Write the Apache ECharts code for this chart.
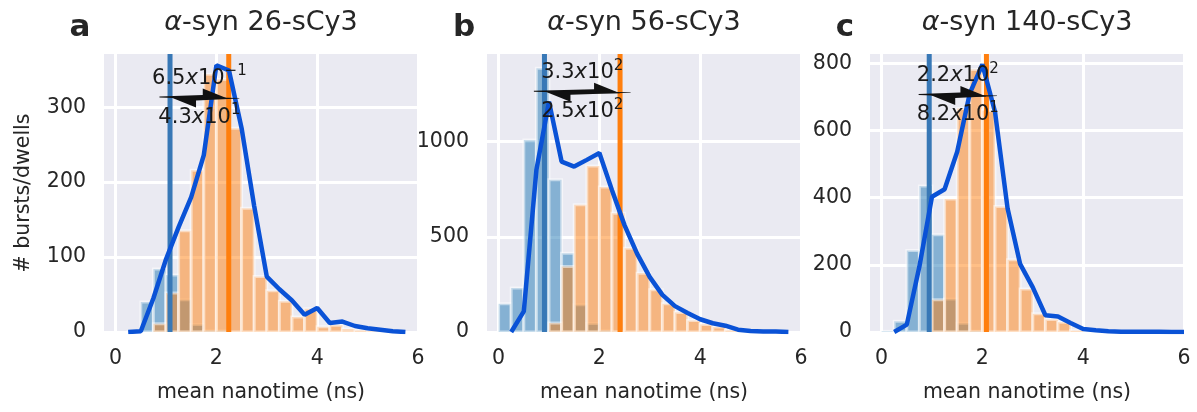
<!DOCTYPE html>
<html><head><meta charset="utf-8">
<script src="https://cdn.jsdelivr.net/npm/echarts@6/dist/echarts.min.js"></script>
<style>html,body{margin:0;padding:0;background:#fff}#c{width:1197px;height:412px}</style>
</head><body><div id="c"></div>
<script>
// ---- data ----
const binCenters = [0.125,0.375,0.625,0.875,1.125,1.375,1.625,1.875,2.125,2.375,2.625,2.875,3.125,3.375,3.625,3.875,4.125,4.375,4.625,4.875,5.125,5.375,5.625,5.875];
const lineEdges  = [0.25,0.5,0.75,1.0,1.25,1.5,1.75,2.0,2.25,2.5,2.75,3.0,3.25,3.5,3.75,4.0,4.25,4.5,4.75,5.0,5.25,5.5,5.75,6.0];
const panelLetters = ['a','b','c'];
const panelTitles = ['-syn 26-sCy3','-syn 56-sCy3','-syn 140-sCy3'];
const xAxisTitle = 'mean nanotime (ns)';
const yAxisTitle = '# bursts/dwells';

const blueA   = [0,1,40,84,76,43,10,2,2,0,0,0,0,0,0,0,0,0,0,0,0,0,0,0];
const orangeA = [0,0,0,11,52,135,216,344,337,272,165,74,55,41,20,31,7,9,4,2,1,0,0,0];
const lineA   = [0,1,45,97,140,180,236,356,349,272,168,74,57,42,23,32,12,14,8,5,3,1,0,null];

const blueB   = [148,231,1009,1385,799,414,143,45,8,2,0,0,0,0,0,0,0,0,0,0,0,0,0,0];
const orangeB = [0,0,0,0,47,344,668,872,762,624,440,309,222,148,103,60,40,26,8,3,0,0,0,0];
const lineB   = [0,108,851,1210,895,869,904,940,745,560,410,288,195,136,100,67,46,33,12,5,3,2,0,null];

const blueC   = [2,32,243,435,290,98,26,3,0,0,0,0,0,0,0,0,0,0,0,0,0,0,0,0];
const orangeC = [0,0,0,0,96,396,666,782,660,374,215,128,54,37,29,4,0,0,0,0,0,0,0,0];
const lineC   = [0,22,195,403,425,537,711,797,656,368,202,133,50,46,27,9,5,2,1,1,1,1,0,0];

const xTicks = [0,2,4,6];
const yTicks = [[0,100,200,300],[0,500,1000],[0,200,400,600,800]];
const yMaxes = [371,1460,828];

const vlineBlue   = [1.08, 0.91, 0.945];
const vlineOrange = [2.245, 2.41, 2.08];
const arrowY      = [313, 1262, 706];
const rateUp   = ['6.5','3.3','2.2'];
const expUp    = ['\u22121','2','2'];
const rateDown = ['4.3','2.5','8.2'];
const expDown  = ['1','2','1'];

const blues   = [blueA, blueB, blueC];
const oranges = [orangeA, orangeB, orangeC];
const lines   = [lineA, lineB, lineC];

// ---- style ----
const FONT = 'DejaVu Sans';
const TXT = '#262626';
const BIN = 0.25;
const OVER = 0.21;
const gridLefts = [104, 487, 870];
const GW = 314, GT = 54, GH = 278;

const chart = echarts.init(document.getElementById('c'), null, {renderer:'canvas'});

function barRender(color){
  return function(params, api){
    const c = api.value(0), h = api.value(1);
    const p0 = api.coord([c - BIN/2, h]);
    const p1 = api.coord([c + BIN/2, 0]);
    return {type:'rect', shape:{x:p0[0], y:p0[1], width:p1[0]-p0[0], height:p1[1]-p0[1]},
      style:{fill:color, stroke:'rgba(255,255,255,0.5)', lineWidth:3}};
  };
}
function vlineRender(color){
  return function(params, api){
    const p = api.coord([api.value(0), 0]);
    const cs = params.coordSys;
    return {type:'line', shape:{x1:p[0], y1:cs.y, x2:p[0], y2:cs.y+cs.height},
      style:{stroke:color, lineWidth:5}};
  };
}
const annRich = {
  n:{fontFamily:FONT, fontSize:21, lineHeight:25, verticalAlign:'bottom', fill:'#1a1a1a'},
  i:{fontFamily:FONT, fontSize:21, lineHeight:25, verticalAlign:'bottom', fontStyle:'italic', fill:'#1a1a1a'},
  s:{fontFamily:FONT, fontSize:15, lineHeight:15, verticalAlign:'top', fill:'#1a1a1a'}
};
function arrowRender(i){
  return function(params, api){
    const xb = api.value(0), xo = api.value(1), yv = api.value(2);
    const L = api.coord([xb - OVER, yv]), B = api.coord([xb, yv]);
    const O = api.coord([xo, yv]), R = api.coord([xo + OVER, yv]);
    const y0 = B[1], HL = 26;
    const up = [[L[0], y0-1], [O[0]-HL, y0-2.5], [O[0]-HL, y0-9], [O[0], y0+1.5], [O[0]-HL, y0+1.5], [L[0], y0]];
    const dn = [[R[0], y0+1], [B[0]+HL, y0+3], [B[0]+HL, y0+10], [B[0], y0-0.5], [B[0]+HL, y0-0.5], [R[0], y0+0.5]];
    const mx = (B[0]+O[0])/2;
    return {type:'group', children:[
      {type:'polygon', shape:{points:up}, style:{fill:'#111'}},
      {type:'polygon', shape:{points:dn}, style:{fill:'#111'}},
      {type:'text', x:mx, y:y0-21, style:{text:'{n|'+rateUp[i]+'}{i|x}{n|10}{s|'+expUp[i]+'}', rich:annRich, align:'center', verticalAlign:'middle'}},
      {type:'text', x:mx, y:y0+18, style:{text:'{n|'+rateDown[i]+'}{i|x}{n|10}{s|'+expDown[i]+'}', rich:annRich, align:'center', verticalAlign:'middle'}}
    ]};
  };
}

const grids = [], xAxes = [], yAxes = [], series = [], graphics = [];
for (let i = 0; i < 3; i++){
  grids.push({left:gridLefts[i], top:GT, width:GW, height:GH, show:true, backgroundColor:'#EAEAF2', borderWidth:0});
  xAxes.push({type:'value', gridIndex:i, min:-0.23, max:6,
    axisLine:{show:false}, axisTick:{show:false, customValues:xTicks},
    axisLabel:{customValues:xTicks, formatter:v=>String(v), fontFamily:FONT, fontSize:20.5, color:TXT, margin:16},
    splitLine:{show:true, lineStyle:{color:'#fff', width:3}}});
  yAxes.push({type:'value', gridIndex:i, min:0, max:yMaxes[i],
    axisLine:{show:false}, axisTick:{show:false, customValues:yTicks[i]},
    axisLabel:{customValues:yTicks[i], formatter:v=>String(v), fontFamily:FONT, fontSize:20.5, color:TXT, margin:18},
    splitLine:{show:true, lineStyle:{color:'#fff', width:3}}});
  const bData = [], oData = [];
  binCenters.forEach((c,k)=>{ if (blues[i][k]>0) bData.push([c, blues[i][k]]); if (oranges[i][k]>0) oData.push([c, oranges[i][k]]); });
  series.push({type:'custom', xAxisIndex:i, yAxisIndex:i, z:2, clip:true, silent:true, renderItem:barRender('rgba(31,119,180,0.5)'), data:bData, encode:{x:0,y:1}});
  series.push({type:'custom', xAxisIndex:i, yAxisIndex:i, z:3, clip:true, silent:true, renderItem:barRender('rgba(255,127,14,0.5)'), data:oData, encode:{x:0,y:1}});
  series.push({type:'custom', xAxisIndex:i, yAxisIndex:i, z:4, clip:true, silent:true, renderItem:vlineRender('#3878b6'), data:[[vlineBlue[i],0]], encode:{x:0,y:1}});
  series.push({type:'custom', xAxisIndex:i, yAxisIndex:i, z:4, clip:true, silent:true, renderItem:vlineRender('#ff7f0e'), data:[[vlineOrange[i],0]], encode:{x:0,y:1}});
  const lData = [];
  lineEdges.forEach((e,k)=>{ if (lines[i][k] !== null) lData.push([e, lines[i][k]]); });
  series.push({type:'line', xAxisIndex:i, yAxisIndex:i, z:5, silent:true, showSymbol:false, clip:true,
    lineStyle:{color:'#0a52d6', width:4.5}, data:lData});
  series.push({type:'custom', xAxisIndex:i, yAxisIndex:i, z:6, clip:false, silent:true, renderItem:arrowRender(i),
    data:[[vlineBlue[i], vlineOrange[i], arrowY[i]]], encode:{x:[0,1], y:2}});

  const cx = gridLefts[i] + GW/2;
  graphics.push({type:'text', x:[80,464,845][i], y:28, style:{text:panelLetters[i], fontFamily:FONT, fontWeight:'bold', fontSize:31, fill:TXT, align:'center', verticalAlign:'middle'}});
  graphics.push({type:'text', x:cx, y:23, style:{text:'{i|\u03B1}{n|'+panelTitles[i]+'}', align:'center', verticalAlign:'middle',
    rich:{i:{fontFamily:FONT, fontSize:27, fontStyle:'italic', fill:TXT}, n:{fontFamily:FONT, fontSize:27, fill:TXT}}}});
  graphics.push({type:'text', x:cx, y:393, style:{text:xAxisTitle, fontFamily:FONT, fontSize:20.5, fill:TXT, align:'center', verticalAlign:'middle'}});
}
graphics.push({type:'text', x:24, y:193, rotation:Math.PI/2, style:{text:yAxisTitle, fontFamily:FONT, fontSize:20.5, fill:TXT, align:'center', verticalAlign:'middle'}});

chart.setOption({
  animation:false,
  backgroundColor:'#ffffff',
  grid:grids, xAxis:xAxes, yAxis:yAxes, series:series, graphic:{elements:graphics}
});
</script></body></html>
